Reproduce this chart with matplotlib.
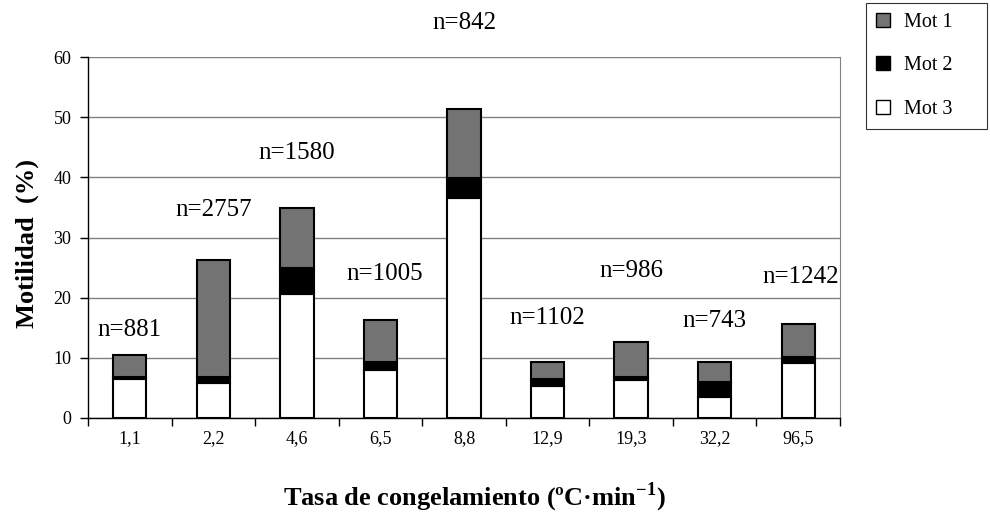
import matplotlib.pyplot as plt
import numpy as np

plt.rcParams['font.family'] = ['Liberation Serif', 'DejaVu Serif']
plt.rcParams['mathtext.fontset'] = 'custom'
plt.rcParams['mathtext.bf'] = 'Liberation Serif:bold'
plt.rcParams['mathtext.rm'] = 'Liberation Serif'

# datos
tasas = ['1,1', '2,2', '4,6', '6,5', '8,8', '12,9', '19,3', '32,2', '96,5']
mot3 = [6.4, 5.75, 20.6, 7.95, 36.5, 5.4, 6.35, 3.55, 9.1]
mot2 = [0.45, 1.1, 4.4, 1.4, 3.4, 1.1, 0.45, 2.4, 1.1]
mot1 = [3.55, 19.4, 9.9, 6.9, 11.5, 2.8, 5.8, 3.3, 5.4]
n_labels = ['n=881', 'n=2757', 'n=1580', 'n=1005', 'n=842', 'n=1102', 'n=986', 'n=743', 'n=1242']
n_pos_x = [0, 1, 2, 3.05, 4, 5, 6, 7, 8.03]
n_pos_y = [14.6, 34.5, 44.0, 23.9, 65.7, 16.6, 24.5, 16.2, 23.4]

fig = plt.figure(figsize=(9.9, 5.14), dpi=100)
ax = fig.add_axes([88 / 990, 1 - 418 / 514, (840 - 88) / 990, (418 - 57) / 514])

x = np.arange(len(tasas))
w = 0.4
b3 = ax.bar(x, mot3, w, color='white', edgecolor='black', linewidth=1.5, zorder=3)
b2 = ax.bar(x, mot2, w, bottom=mot3, color='black', edgecolor='black', linewidth=1.5, zorder=3)
bottom1 = np.array(mot3) + np.array(mot2)
b1 = ax.bar(x, mot1, w, bottom=bottom1, color='#737373', edgecolor='black', linewidth=1.5, zorder=3)

for i in range(len(n_labels)):
    ax.text(n_pos_x[i], n_pos_y[i], n_labels[i], ha='center', va='center',
            fontsize=18, clip_on=False)

ax.set_xlim(-0.5, len(tasas) - 0.5)
ax.set_ylim(0, 60)
ax.set_yticks(range(0, 61, 10))
ax.yaxis.grid(True, color='#808080', linewidth=1)
ax.set_axisbelow(True)

# ticks entre categorias
ax.set_xticks(np.arange(-0.5, len(tasas), 1.0))
ax.set_xticklabels([])
ax.set_xticks(x, minor=True)
ax.set_xticklabels(tasas, minor=True, fontsize=13)
ax.tick_params(axis='x', which='minor', length=0, pad=9)
ax.tick_params(axis='x', which='major', length=6, width=1, direction='out')
ax.tick_params(axis='y', length=6, width=1, labelsize=13, pad=6)

ax.spines['top'].set_visible(False)
ax.spines['right'].set_color('#808080')
ax.spines['left'].set_linewidth(1)
ax.spines['bottom'].set_linewidth(1)

fig.text(27 / 990, 1 - 244 / 514, 'Motilidad  (%)', rotation=90, fontsize=19,
         fontweight='bold', ha='center', va='center')
fig.text(474 / 990, 1 - 497 / 514, r'Tasa de congelamiento (ºC·min$^{\mathbf{-1}}$)',
         fontsize=19, fontweight='bold', ha='center', va='center')

# leyenda
leg = ax.legend([b1, b2, b3], ['Mot 1', 'Mot 2', 'Mot 3'], loc='upper left',
                bbox_to_anchor=(866 / 990, 1 - 131 / 514, 121 / 990, 128 / 514),
                bbox_transform=fig.transFigure, mode='expand',
                fontsize=14.5, frameon=True, fancybox=False, edgecolor='black',
                handlelength=0.7, handleheight=0.7, labelspacing=1.2,
                borderpad=0.5, handletextpad=0.7, borderaxespad=0)
leg.get_frame().set_linewidth(0.8)
for h in leg.legend_handles:
    h.set_linewidth(1)

fig.savefig('out.png', dpi=100)
